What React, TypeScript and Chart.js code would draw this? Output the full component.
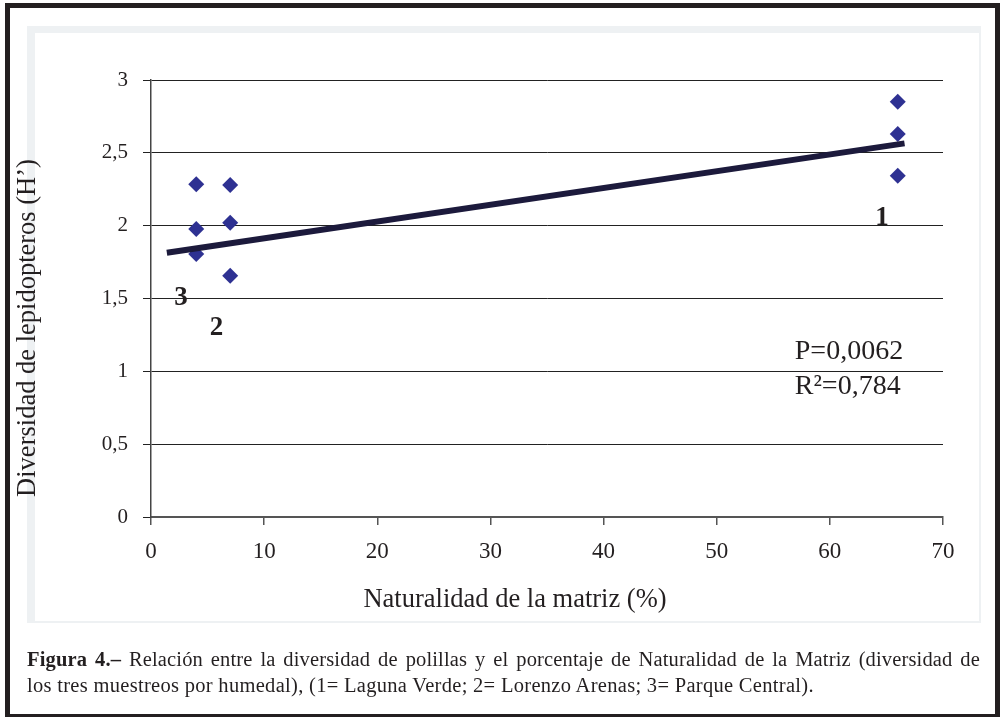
import React, { useEffect, useRef } from 'react';
import { Chart, registerables } from 'chart.js';

Chart.register(...registerables);

// ---- data ----
const pointX = [4, 4, 4, 7, 7, 7, 66, 66, 66];
const pointY = [2.284, 1.977, 1.805, 2.279, 2.02, 1.656, 2.851, 2.629, 2.343];
const trendX = [1.4, 66.6];
const trendY = [1.814, 2.565];
const siteLabels = ['1', '2', '3'];
const siteLabelX = [64.6, 5.8, 2.65];
const siteLabelY = [2.05, 1.3, 1.5];
const statLines = ['P=0,0062', 'R\u00B2=0,784'];
const statX = [56.9, 56.9];
const statY = [1.133, 0.892];
const xTitle = 'Naturalidad de la matriz (%)';
const yTitle = 'Diversidad de lepidopteros (H\u2019)';
const xMin = 0, xMax = 70, xStep = 10;
const yMin = 0, yMax = 3, yStep = 0.5;

const FONT = '"Liberation Serif", "Times New Roman", serif';
const INK = '#231f20';

const textPlugin = {
  id: 'figureTexts',
  afterDatasetsDraw(chart: any) {
    const { ctx, scales } = chart;
    const xs = scales.x, ys = scales.y;
    ctx.save();
    ctx.fillStyle = INK;
    ctx.textAlign = 'center';
    ctx.textBaseline = 'middle';
    ctx.font = `bold 27px ${FONT}`;
    siteLabels.forEach((t, i) => {
      ctx.fillText(t, xs.getPixelForValue(siteLabelX[i]), ys.getPixelForValue(siteLabelY[i]));
    });
    ctx.font = `28px ${FONT}`;
    ctx.textAlign = 'left';
    statLines.forEach((t, i) => {
      ctx.fillText(t, xs.getPixelForValue(statX[i]), ys.getPixelForValue(statY[i]));
    });
    ctx.font = `26.5px ${FONT}`;
    ctx.textAlign = 'center';
    ctx.fillText(xTitle, 515, 600);
    ctx.translate(28, 328);
    ctx.rotate(-Math.PI / 2);
    ctx.fillText(yTitle, 0, 0);
    ctx.restore();
  },
};

export default function App() {
  const ref = useRef<HTMLCanvasElement | null>(null);

  useEffect(() => {
    if (!ref.current) return;
    const chart = new Chart(ref.current, {
      type: 'scatter',
      data: {
        datasets: [
          {
            label: 'Tendencia',
            data: trendX.map((x, i) => ({ x, y: trendY[i] })),
            showLine: true,
            borderColor: '#1c1a3c',
            borderWidth: 6,
            pointRadius: 0,
            borderCapStyle: 'butt',
          } as any,
          {
            label: 'Humedales',
            data: pointX.map((x, i) => ({ x, y: pointY[i] })),
            showLine: false,
            pointStyle: 'rectRot',
            pointRadius: 8,
            pointBackgroundColor: '#2e3192',
            pointBorderWidth: 0,
            backgroundColor: '#2e3192',
          } as any,
        ],
      },
      options: {
        animation: false,
        responsive: false,
        layout: { padding: { left: 0, top: 80, right: 57, bottom: 0 } },
        plugins: { legend: { display: false }, tooltip: { enabled: false } },
        scales: {
          x: {
            type: 'linear',
            min: xMin,
            max: xMax,
            ticks: {
              stepSize: xStep,
              font: { family: FONT, size: 23 },
              color: INK,
              padding: 13,
              maxRotation: 0,
            },
            grid: { drawOnChartArea: false, drawTicks: true, tickLength: 8, color: '#555', lineWidth: 1.5 },
            border: { color: '#555', width: 2 },
            afterFit: (s: any) => { s.height = 200; },
          },
          y: {
            type: 'linear',
            min: yMin,
            max: yMax,
            ticks: {
              stepSize: yStep,
              callback: (v: any) => String(v).replace('.', ','),
              font: { family: FONT, size: 21 },
              color: INK,
              padding: 15,
            },
            grid: { color: '#222', lineWidth: 1, tickLength: 8 },
            border: { color: '#444', width: 1.5 },
            afterFit: (s: any) => { s.width = 151; },
          },
        },
      } as any,
      plugins: [textPlugin],
    });
    return () => chart.destroy();
  }, []);

  return (
    <div style={{ position: 'fixed', left: 0, top: 0, width: 1000, height: 717, background: '#fff', overflow: 'hidden' }}>
      <div style={{ position: 'absolute', left: 5, top: 3, width: 995, height: 716, boxSizing: 'border-box', border: `5px solid ${INK}` }} />
      <div style={{ position: 'absolute', left: 27, top: 26, width: 954, height: 597, boxSizing: 'border-box', borderStyle: 'solid', borderColor: '#eef1f3', borderWidth: '7px 2px 2px 8px' }} />
      <canvas ref={ref} width={1000} height={717} style={{ position: 'absolute', left: 0, top: 0, width: 1000, height: 717 }} />
      <div style={{ position: 'absolute', left: 27, top: 646, width: 953, fontFamily: FONT, fontSize: 20.5, lineHeight: '26px', color: INK }}>
        <div style={{ whiteSpace: 'nowrap', textAlign: 'justify', textAlignLast: 'justify', letterSpacing: '0.15px' } as any}>
          <b>Figura 4.–</b> Relación entre la diversidad de polillas y el porcentaje de Naturalidad de la Matriz (diversidad de
        </div>
        <div style={{ whiteSpace: 'nowrap', letterSpacing: '0.3px' }}>
          los tres muestreos por humedal), (1= Laguna Verde; 2= Lorenzo Arenas; 3= Parque Central).
        </div>
      </div>
    </div>
  );
}
